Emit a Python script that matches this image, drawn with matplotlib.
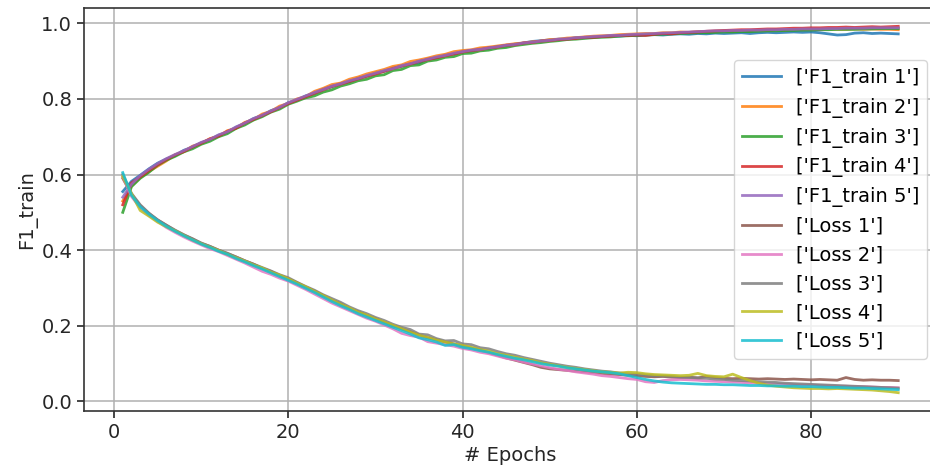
import matplotlib
matplotlib.use("Agg")
import matplotlib.pyplot as plt
import numpy as np

epochs = list(range(1, 91))

f1_1 = [0.555, 0.582, 0.598, 0.615, 0.630, 0.641, 0.650, 0.664, 0.672, 0.684,
        0.692, 0.704, 0.712, 0.725, 0.735, 0.748, 0.756, 0.769, 0.777, 0.790,
        0.797, 0.808, 0.815, 0.826, 0.832, 0.841, 0.846, 0.855, 0.860, 0.869,
        0.873, 0.882, 0.886, 0.894, 0.895, 0.906, 0.909, 0.916, 0.919, 0.926,
        0.927, 0.932, 0.933, 0.939, 0.940, 0.945, 0.948, 0.952, 0.954, 0.956,
        0.958, 0.958, 0.962, 0.962, 0.963, 0.965, 0.966, 0.966, 0.968, 0.967,
        0.969, 0.970, 0.969, 0.971, 0.972, 0.971, 0.973, 0.972, 0.974, 0.973,
        0.974, 0.975, 0.973, 0.975, 0.976, 0.975, 0.976, 0.977, 0.976, 0.977,
        0.975, 0.972, 0.969, 0.970, 0.974, 0.975, 0.973, 0.974, 0.973, 0.972]
f1_2 = [0.530, 0.570, 0.592, 0.608, 0.622, 0.636, 0.652, 0.660, 0.675, 0.682,
        0.695, 0.701, 0.716, 0.722, 0.738, 0.745, 0.760, 0.767, 0.781, 0.788,
        0.800, 0.806, 0.820, 0.828, 0.838, 0.842, 0.852, 0.858, 0.866, 0.872,
        0.878, 0.886, 0.890, 0.899, 0.903, 0.908, 0.914, 0.918, 0.925, 0.928,
        0.930, 0.935, 0.937, 0.940, 0.943, 0.946, 0.948, 0.951, 0.953, 0.957,
        0.958, 0.961, 0.962, 0.964, 0.966, 0.967, 0.968, 0.970, 0.971, 0.972,
        0.973, 0.973, 0.975, 0.975, 0.977, 0.976, 0.978, 0.978, 0.979, 0.980,
        0.979, 0.981, 0.980, 0.982, 0.981, 0.983, 0.982, 0.984, 0.983, 0.984,
        0.983, 0.985, 0.984, 0.984, 0.985, 0.984, 0.985, 0.984, 0.984, 0.983]
f1_3 = [0.500, 0.568, 0.590, 0.606, 0.625, 0.638, 0.648, 0.660, 0.668, 0.680,
        0.688, 0.700, 0.708, 0.722, 0.731, 0.744, 0.753, 0.765, 0.773, 0.786,
        0.794, 0.803, 0.808, 0.818, 0.824, 0.834, 0.840, 0.848, 0.852, 0.861,
        0.864, 0.875, 0.878, 0.888, 0.890, 0.900, 0.903, 0.910, 0.912, 0.920,
        0.921, 0.927, 0.929, 0.934, 0.936, 0.941, 0.944, 0.947, 0.949, 0.952,
        0.954, 0.957, 0.958, 0.960, 0.962, 0.963, 0.964, 0.966, 0.967, 0.968,
        0.969, 0.970, 0.971, 0.972, 0.973, 0.974, 0.975, 0.975, 0.976, 0.977,
        0.977, 0.978, 0.978, 0.979, 0.980, 0.980, 0.981, 0.981, 0.982, 0.982,
        0.983, 0.983, 0.984, 0.984, 0.984, 0.985, 0.985, 0.986, 0.986, 0.986]
f1_4 = [0.520, 0.578, 0.594, 0.611, 0.626, 0.640, 0.652, 0.661, 0.673, 0.683,
        0.694, 0.702, 0.714, 0.723, 0.736, 0.746, 0.756, 0.766, 0.777, 0.788,
        0.797, 0.806, 0.815, 0.824, 0.833, 0.839, 0.846, 0.853, 0.860, 0.866,
        0.873, 0.880, 0.887, 0.892, 0.899, 0.904, 0.909, 0.914, 0.919, 0.924,
        0.928, 0.930, 0.935, 0.937, 0.942, 0.943, 0.948, 0.949, 0.953, 0.954,
        0.957, 0.958, 0.960, 0.963, 0.963, 0.965, 0.966, 0.968, 0.968, 0.969,
        0.968, 0.971, 0.973, 0.972, 0.975, 0.976, 0.977, 0.979, 0.980, 0.981,
        0.982, 0.983, 0.983, 0.984, 0.985, 0.985, 0.986, 0.987, 0.987, 0.988,
        0.988, 0.989, 0.989, 0.990, 0.989, 0.990, 0.991, 0.990, 0.991, 0.992]
f1_5 = [0.540, 0.574, 0.597, 0.614, 0.629, 0.642, 0.653, 0.663, 0.674, 0.685,
        0.693, 0.705, 0.713, 0.726, 0.736, 0.748, 0.757, 0.768, 0.778, 0.790,
        0.799, 0.808, 0.817, 0.825, 0.834, 0.840, 0.848, 0.854, 0.862, 0.868,
        0.875, 0.880, 0.888, 0.893, 0.900, 0.905, 0.911, 0.915, 0.921, 0.925,
        0.929, 0.931, 0.935, 0.938, 0.942, 0.944, 0.948, 0.950, 0.953, 0.955,
        0.958, 0.959, 0.962, 0.963, 0.965, 0.966, 0.968, 0.968, 0.970, 0.971,
        0.972, 0.973, 0.974, 0.975, 0.976, 0.977, 0.978, 0.979, 0.980, 0.980,
        0.981, 0.981, 0.982, 0.982, 0.983, 0.983, 0.984, 0.984, 0.985, 0.985,
        0.985, 0.986, 0.986, 0.987, 0.987, 0.987, 0.988, 0.988, 0.988, 0.988]

loss_1 = [0.590, 0.548, 0.518, 0.497, 0.480, 0.466, 0.452, 0.440, 0.430, 0.418,
          0.410, 0.400, 0.391, 0.382, 0.372, 0.363, 0.352, 0.344, 0.333, 0.324,
          0.314, 0.302, 0.292, 0.280, 0.268, 0.258, 0.246, 0.237, 0.227, 0.219,
          0.209, 0.200, 0.192, 0.184, 0.176, 0.168, 0.163, 0.157, 0.152, 0.146,
          0.141, 0.136, 0.129, 0.122, 0.115, 0.109, 0.103, 0.097, 0.090, 0.086,
          0.084, 0.082, 0.080, 0.078, 0.076, 0.074, 0.072, 0.071, 0.069, 0.068,
          0.066, 0.065, 0.066, 0.064, 0.063, 0.064, 0.062, 0.066, 0.063, 0.061,
          0.060, 0.061, 0.060, 0.059, 0.060, 0.059, 0.058, 0.059, 0.058, 0.057,
          0.058, 0.057, 0.056, 0.063, 0.058, 0.056, 0.057, 0.056, 0.056, 0.055]
loss_2 = [0.595, 0.542, 0.512, 0.492, 0.476, 0.460, 0.447, 0.435, 0.424, 0.414,
          0.404, 0.396, 0.386, 0.376, 0.366, 0.355, 0.344, 0.336, 0.326, 0.318,
          0.307, 0.296, 0.284, 0.272, 0.260, 0.250, 0.240, 0.230, 0.220, 0.212,
          0.202, 0.192, 0.180, 0.174, 0.170, 0.158, 0.154, 0.150, 0.146, 0.140,
          0.136, 0.130, 0.126, 0.120, 0.114, 0.110, 0.104, 0.099, 0.094, 0.089,
          0.085, 0.082, 0.078, 0.075, 0.072, 0.068, 0.066, 0.063, 0.060, 0.058,
          0.052, 0.050, 0.055, 0.057, 0.058, 0.057, 0.056, 0.054, 0.053, 0.052,
          0.051, 0.050, 0.049, 0.048, 0.047, 0.046, 0.045, 0.044, 0.043, 0.043,
          0.042, 0.041, 0.040, 0.040, 0.039, 0.039, 0.038, 0.037, 0.037, 0.036]
loss_3 = [0.600, 0.550, 0.520, 0.498, 0.480, 0.466, 0.453, 0.441, 0.430, 0.419,
          0.410, 0.400, 0.392, 0.382, 0.372, 0.363, 0.354, 0.345, 0.335, 0.327,
          0.315, 0.304, 0.294, 0.282, 0.272, 0.262, 0.250, 0.240, 0.232, 0.222,
          0.214, 0.204, 0.196, 0.190, 0.178, 0.176, 0.166, 0.160, 0.161, 0.152,
          0.150, 0.142, 0.139, 0.132, 0.126, 0.122, 0.116, 0.111, 0.106, 0.101,
          0.097, 0.093, 0.090, 0.086, 0.083, 0.080, 0.078, 0.075, 0.073, 0.072,
          0.070, 0.068, 0.067, 0.066, 0.064, 0.063, 0.062, 0.061, 0.059, 0.058,
          0.056, 0.055, 0.054, 0.052, 0.051, 0.050, 0.048, 0.047, 0.046, 0.045,
          0.044, 0.043, 0.042, 0.041, 0.040, 0.039, 0.038, 0.037, 0.036, 0.035]
loss_4 = [0.595, 0.550, 0.505, 0.490, 0.474, 0.462, 0.451, 0.439, 0.427, 0.417,
          0.408, 0.399, 0.389, 0.380, 0.371, 0.361, 0.353, 0.342, 0.334, 0.324,
          0.313, 0.303, 0.291, 0.280, 0.268, 0.257, 0.247, 0.236, 0.228, 0.218,
          0.210, 0.201, 0.192, 0.183, 0.175, 0.169, 0.162, 0.157, 0.152, 0.148,
          0.143, 0.137, 0.133, 0.126, 0.122, 0.117, 0.112, 0.108, 0.102, 0.098,
          0.094, 0.090, 0.087, 0.084, 0.081, 0.078, 0.077, 0.075, 0.077, 0.076,
          0.073, 0.071, 0.070, 0.069, 0.068, 0.069, 0.074, 0.068, 0.066, 0.065,
          0.072, 0.063, 0.055, 0.048, 0.043, 0.040, 0.038, 0.036, 0.035, 0.034,
          0.034, 0.033, 0.034, 0.033, 0.032, 0.031, 0.030, 0.028, 0.026, 0.023]
loss_5 = [0.605, 0.545, 0.515, 0.495, 0.478, 0.463, 0.450, 0.438, 0.427, 0.416,
          0.407, 0.397, 0.389, 0.378, 0.369, 0.359, 0.350, 0.340, 0.330, 0.320,
          0.310, 0.299, 0.288, 0.276, 0.264, 0.253, 0.243, 0.232, 0.223, 0.214,
          0.205, 0.196, 0.187, 0.178, 0.168, 0.163, 0.157, 0.148, 0.150, 0.143,
          0.139, 0.134, 0.130, 0.124, 0.119, 0.114, 0.110, 0.105, 0.100, 0.096,
          0.093, 0.089, 0.086, 0.083, 0.080, 0.078, 0.076, 0.073, 0.068, 0.063,
          0.058, 0.054, 0.051, 0.049, 0.048, 0.047, 0.046, 0.045, 0.045, 0.044,
          0.044, 0.043, 0.042, 0.042, 0.041, 0.041, 0.040, 0.040, 0.039, 0.039,
          0.038, 0.037, 0.037, 0.036, 0.035, 0.035, 0.034, 0.033, 0.032, 0.031]

series = [f1_1, f1_2, f1_3, f1_4, f1_5, loss_1, loss_2, loss_3, loss_4, loss_5]
labels = ["['F1_train 1']", "['F1_train 2']", "['F1_train 3']", "['F1_train 4']",
          "['F1_train 5']", "['Loss 1']", "['Loss 2']", "['Loss 3']",
          "['Loss 4']", "['Loss 5']"]
colors = ['#1f77b4', '#ff7f0e', '#2ca02c', '#d62728', '#9467bd',
          '#8c564b', '#e377c2', '#7f7f7f', '#bcbd22', '#17becf']

plt.rcParams['font.family'] = ['DejaVu Sans']
plt.rcParams['font.size'] = 14

fig = plt.figure(figsize=(9.3, 4.72), dpi=100)
ax = fig.add_axes([84 / 930, 1 - 411 / 472, (937 - 84) / 930, (411 - 8) / 472])

for s, lab, c in zip(series, labels, colors):
    ax.plot(epochs, s, color=c, label=lab, linewidth=2.0, alpha=0.85)

ax.set_xlabel('# Epochs', fontsize=14, color='#262626', labelpad=3)
ax.set_ylabel('F1_train', fontsize=14, color='#262626', labelpad=3)
ax.set_xticks([0, 20, 40, 60, 80])
ax.set_yticks([0.0, 0.2, 0.4, 0.6, 0.8, 1.0])
ax.tick_params(labelsize=14, colors='#262626', width=1.2, length=5)
ax.grid(True, color='#b0b0b0', linewidth=1.1)
for sp in ax.spines.values():
    sp.set_color('#333333')
    sp.set_linewidth(1.2)

ax.legend(loc='center right', fontsize=14, framealpha=0.8, borderaxespad=0.5,
          handlelength=2.0)

fig.savefig('out.png', dpi=100)
